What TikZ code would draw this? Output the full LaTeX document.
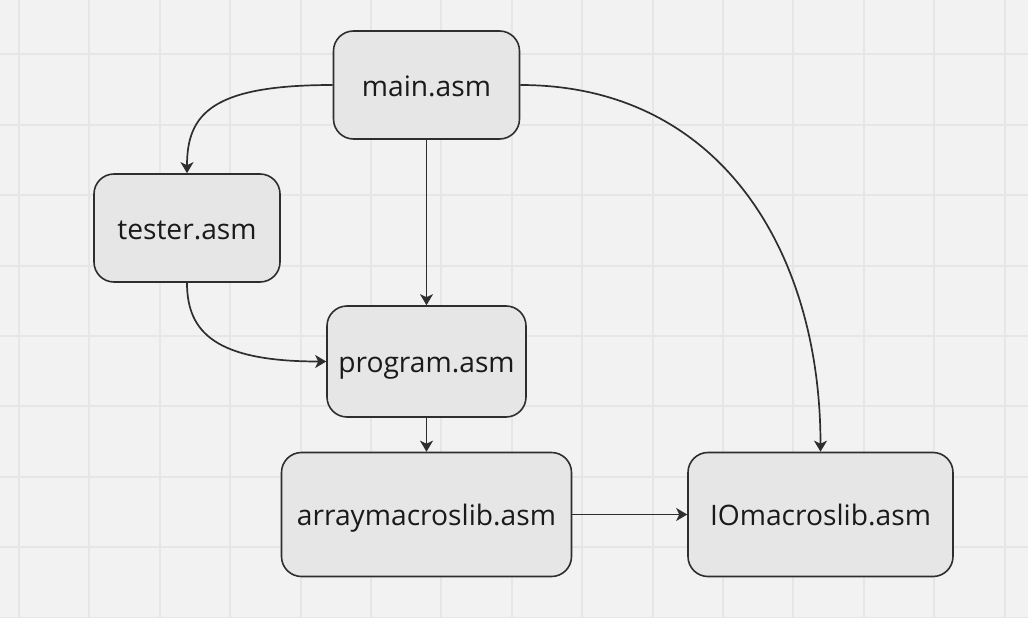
\documentclass[tikz,border=0pt]{standalone}
\usepackage{fontspec}
\setmainfont{Open Sans}
\usetikzlibrary{arrows.meta}
\definecolor{bgc}{HTML}{F2F2F2}
\definecolor{gridc}{HTML}{E6E6E6}
\definecolor{boxc}{HTML}{E6E6E6}
\definecolor{linec}{HTML}{2E2E2E}
\definecolor{textc}{HTML}{1A1A1A}
\begin{document}
\begin{tikzpicture}[x=1pt,y=-1pt,
  filebox/.style={draw=linec, line width=1.6pt, fill=boxc, rounded corners=20pt,
    inner sep=0pt, text=textc, text height=22pt, text depth=0pt,
    font=\fontsize{28.2}{30}\selectfont},
  conn/.style={draw=linec, line width=1.7pt,
    -{Stealth[length=11pt,width=13pt,inset=3pt]}}
]
\useasboundingbox (0,0) rectangle (1028,618);
\fill[bgc] (0,0) rectangle (1028,618);
\foreach \k in {0,...,14} \draw[gridc, line width=2pt] (19+70.4*\k,0) -- (19+70.4*\k,618);
\foreach \k in {0,...,8} \draw[gridc, line width=2pt] (0,54.3+70.4*\k) -- (1028,54.3+70.4*\k);

\node[filebox, minimum width=186pt, minimum height=108pt] (main) at (426.5,85) {main.asm};
\node[filebox, minimum width=186pt, minimum height=108pt] (tester) at (187,228) {tester.asm};
\node[filebox, minimum width=199pt, minimum height=111pt] (program) at (426.5,361.5) {program.asm};
\node[filebox, minimum width=290pt, minimum height=124pt] (array) at (426.5,514.5) {arraymacroslib.asm};
\node[filebox, minimum width=265pt, minimum height=124pt] (io) at (820.5,514.5) {IOmacroslib.asm};

\draw[conn] (main.west) .. controls +(-120,0) and +(0,-60) .. (tester.north);
\draw[conn] (main.south) -- (program.north);
\draw[conn] (main.east) .. controls +(200,0) and +(0,-200) .. (io.north);
\draw[conn] (tester.south) .. controls +(0,50) and +(-110,0) .. (program.west);
\draw[conn] (program.south) -- (array.north);
\draw[conn] (array.east) -- (io.west);
\end{tikzpicture}
\end{document}
